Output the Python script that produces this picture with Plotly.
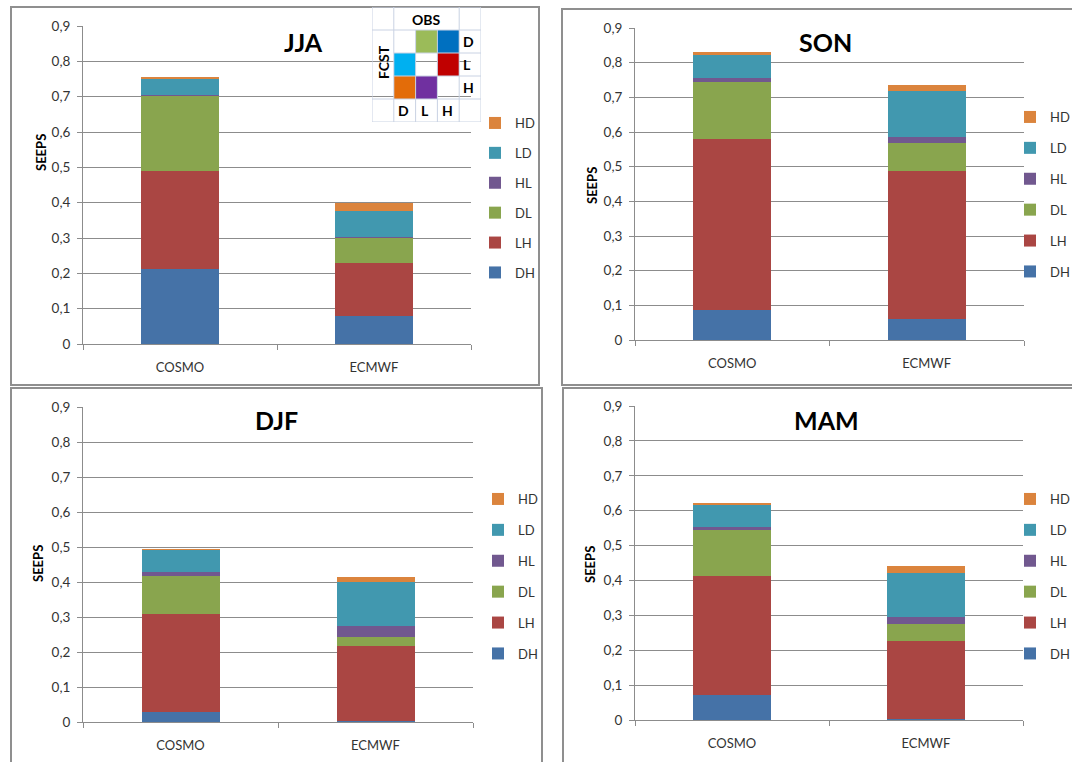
import plotly.graph_objects as go

# ---------------- data ----------------
seasons = ["JJA", "SON", "DJF", "MAM"]
models = ["COSMO", "ECMWF"]
components = ["DH", "LH", "DL", "HL", "LD", "HD"]

jja_DH = [0.213, 0.080]
jja_LH = [0.278, 0.149]
jja_DL = [0.211, 0.072]
jja_HL = [0.002, 0.002]
jja_LD = [0.045, 0.073]
jja_HD = [0.007, 0.024]

son_DH = [0.086, 0.060]
son_LH = [0.493, 0.428]
son_DL = [0.165, 0.079]
son_HL = [0.011, 0.019]
son_LD = [0.068, 0.132]
son_HD = [0.007, 0.019]

djf_DH = [0.028, 0.002]
djf_LH = [0.282, 0.214]
djf_DL = [0.106, 0.026]
djf_HL = [0.014, 0.033]
djf_LD = [0.062, 0.124]
djf_HD = [0.001, 0.014]

mam_DH = [0.072, 0.003]
mam_LH = [0.342, 0.224]
mam_DL = [0.131, 0.047]
mam_HL = [0.007, 0.022]
mam_LD = [0.067, 0.125]
mam_HD = [0.003, 0.019]

y_tickvals = [0, 0.1, 0.2, 0.3, 0.4, 0.5, 0.6, 0.7, 0.8, 0.9]
y_ticktext = ["0", "0,1", "0,2", "0,3", "0,4", "0,5", "0,6", "0,7", "0,8", "0,9"]

# inset key table (OBS columns x FCST rows)
table_cols = ["D", "L", "H"]
table_rows = ["D", "L", "H"]

season_data = {
    "JJA": [jja_DH, jja_LH, jja_DL, jja_HL, jja_LD, jja_HD],
    "SON": [son_DH, son_LH, son_DL, son_HL, son_LD, son_HD],
    "DJF": [djf_DH, djf_LH, djf_DL, djf_HL, djf_LD, djf_HD],
    "MAM": [mam_DH, mam_LH, mam_DL, mam_HL, mam_LD, mam_HD],
}

# ---------------- styles / layout ----------------
W, H = 1072, 762
FONT = "Lato"
bar_colors = {"DH": "#4572A7", "LH": "#AA4643", "DL": "#89A54E",
              "HL": "#71588F", "LD": "#4198AF", "HD": "#DB843D"}
table_colors = [[None, "#9BBB59", "#0070C0"],
                ["#00B0F0", None, "#C00000"],
                ["#E36C09", "#7030A0", None]]
GRID = "#8c8c8c"
TXT = "#333333"


def fx(p):
    return p / W


def fy(p):
    return 1 - p / H


# pixel boxes: plot (x0, x1, ytop, ybottom), border, legend (left, top, gap), title center, ylabel center
panels = {
    "JJA": dict(plot=(83, 471, 26, 344), border=(11, 539, 7, 385), legend=(475, 108, 10),
                title=(303, 42), ylab=(41, 153)),
    "SON": dict(plot=(635, 1024, 28, 340), border=(562, 1080, 9, 385), legend=(1010, 102, 11),
                title=(825, 42), ylab=(592, 186)),
    "DJF": dict(plot=(83, 473, 407, 722), border=(11, 542, 388, 770), legend=(478, 484, 11),
                title=(276, 420), ylab=(38, 564)),
    "MAM": dict(plot=(635, 1023, 406, 720), border=(563, 1080, 388, 770), legend=(1010, 484, 11),
                title=(826, 420), ylab=(590, 565)),
}

fig = go.Figure()
layout = dict(
    width=W, height=H, margin=dict(l=0, r=0, t=0, b=0, autoexpand=False),
    paper_bgcolor="white", plot_bgcolor="rgba(0,0,0,0)",
    barmode="stack", bargap=0.6, showlegend=True,
    font=dict(family=FONT, color=TXT, size=13),
)
shapes = []
annotations = []

for i, s in enumerate(seasons, start=1):
    p = panels[s]
    sfx = "" if i == 1 else str(i)
    lg = "legend" if i == 1 else f"legend{i}"
    for k, (comp, vals) in enumerate(zip(components, season_data[s])):
        fig.add_trace(go.Bar(
            x=models, y=vals, name=comp, marker=dict(color=bar_colors[comp], line=dict(width=0)),
            xaxis=f"x{sfx}", yaxis=f"y{sfx}", legend=lg, legendgroup=f"{s}-{comp}",
            legendrank=100 - k, hoverinfo="skip",
        ))
    x0, x1, yt, yb = p["plot"]
    layout[f"xaxis{sfx}"] = dict(
        domain=[fx(x0), fx(x1)], anchor=f"y{sfx}", type="category", range=[-0.5, 1.5],
        tickson="boundaries", ticks="outside", ticklen=5, tickcolor=GRID,
        showline=True, linecolor=GRID, linewidth=1, showgrid=False,
        tickfont=dict(family=FONT, size=13, color=TXT), ticklabelstandoff=11,
    )
    layout[f"yaxis{sfx}"] = dict(
        domain=[fy(yb), fy(yt)], anchor=f"x{sfx}", range=[0, 0.9],
        tickvals=y_tickvals, ticktext=y_ticktext, ticks="outside", ticklen=5, tickcolor=GRID,
        showline=True, linecolor=GRID, linewidth=1, showgrid=True, gridcolor=GRID, gridwidth=1,
        zeroline=False, tickfont=dict(family=FONT, size=13.5, color=TXT), ticklabelstandoff=4,
    )
    lx, ly, gap = p["legend"]
    layout[lg] = dict(
        x=fx(lx), y=fy(ly), xanchor="left", yanchor="top", xref="paper", yref="paper",
        traceorder="grouped", tracegroupgap=gap, bgcolor="rgba(0,0,0,0)",
        font=dict(family=FONT, size=13, color=TXT), itemclick=False, itemdoubleclick=False,
    )
    bx0, bx1, by0, by1 = p["border"]
    shapes.append(dict(type="rect", xref="paper", yref="paper",
                       x0=fx(bx0), x1=fx(bx1), y0=fy(by1), y1=fy(by0),
                       line=dict(color="#8f8f8f", width=2), layer="below"))
    tx, ty = p["title"]
    annotations.append(dict(text="<b>%s</b>" % s, x=fx(tx), y=fy(ty), xref="paper", yref="paper",
                            showarrow=False, xanchor="center", yanchor="middle",
                            font=dict(family=FONT, size=25, color="black")))
    ax_, ay_ = p["ylab"]
    annotations.append(dict(text="<b>SEEPS</b>", x=fx(ax_), y=fy(ay_), xref="paper", yref="paper",
                            showarrow=False, textangle=-90, xanchor="center", yanchor="middle",
                            font=dict(family=FONT, size=13, color="black")))

# ---------------- inset key table (heatmap on its own small axes) ----------------
color_list = []
zmat = [[None] * 5 for _ in range(5)]
for r in range(3):
    for c in range(3):
        col = table_colors[r][c]
        if col is not None:
            color_list.append(col)
            zmat[r + 1][c + 1] = len(color_list) - 1
n = len(color_list)
cscale = []
for k, col in enumerate(color_list):
    cscale.append([k / n, col])
    cscale.append([(k + 1) / n, col])
fig.add_trace(go.Heatmap(z=zmat, x=[0, 1, 2, 3, 4], y=[0, 1, 2, 3, 4], colorscale=cscale,
                         zmin=-0.5, zmax=n - 0.5, showscale=False, hoverinfo="skip",
                         xaxis="x5", yaxis="y5", showlegend=False))
layout["xaxis5"] = dict(domain=[fx(372), fx(481)], anchor="y5", range=[-0.5, 4.5], visible=False)
layout["yaxis5"] = dict(domain=[fy(122), fy(7)], anchor="x5", range=[4.5, -0.5], visible=False)

TL = "#C9D2E3"
hlines = [(-0.5, -0.5, 4.5), (0.5, -0.5, 4.5), (1.5, 0.5, 4.5), (2.5, 0.5, 4.5),
          (3.5, -0.5, 4.5), (4.5, -0.5, 4.5)]
for yy, xa, xb in hlines:
    shapes.append(dict(type="line", xref="x5", yref="y5", x0=xa, x1=xb, y0=yy, y1=yy,
                       line=dict(color=TL, width=1)))
vlines = [(-0.5, -0.5, 4.5), (0.5, -0.5, 4.5), (1.5, 0.5, 4.5), (2.5, 0.5, 4.5),
          (3.5, -0.5, 4.5), (4.5, -0.5, 4.5)]
for xx, ya, yb_ in vlines:
    shapes.append(dict(type="line", xref="x5", yref="y5", x0=xx, x1=xx, y0=ya, y1=yb_,
                       line=dict(color=TL, width=1)))

kfont = dict(family=FONT, size=14, color="black")
annotations.append(dict(text="<b>OBS</b>", x=2, y=0.05, xref="x5", yref="y5", showarrow=False,
                        font=kfont))
annotations.append(dict(text="<b>FCST</b>", x=0, y=1.9, xref="x5", yref="y5", showarrow=False,
                        textangle=-90, font=kfont))
for k, lab in enumerate(table_rows):
    annotations.append(dict(text="<b>%s</b>" % lab, x=3.58, y=k + 1, xref="x5", yref="y5",
                            showarrow=False, xanchor="left", font=kfont))
for k, lab in enumerate(table_cols):
    annotations.append(dict(text="<b>%s</b>" % lab, x=k + 1 - 0.05, y=4, xref="x5", yref="y5",
                            showarrow=False, font=kfont))

layout["shapes"] = shapes
layout["annotations"] = annotations
fig.update_layout(**layout)
fig.write_html("out.html", config={"displayModeBar": False},
               post_script="document.body.style.margin='0px';document.body.style.overflow='hidden';")
